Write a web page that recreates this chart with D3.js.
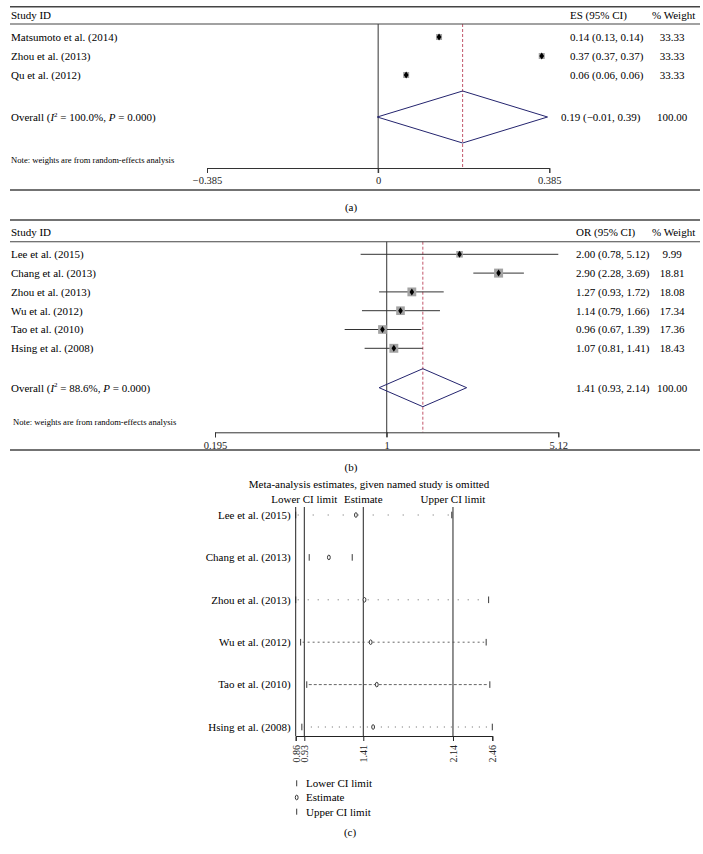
<!DOCTYPE html>
<html><head><meta charset="utf-8">
<script src="https://cdn.jsdelivr.net/npm/d3@7"></script>
<style>
body{margin:0;background:#fff;}
svg{display:block;font-family:"Liberation Serif","Times New Roman",serif;}
</style></head>
<body><svg id="c" width="703" height="854"></svg>
<script>
// ---------- Panel (a) data ----------
const studiesA = ["Matsumoto et al. (2014)", "Zhou et al. (2013)", "Qu et al. (2012)"];
const esA = [0.137, 0.368, 0.063];
const ciTextA = ["0.14 (0.13, 0.14)", "0.37 (0.37, 0.37)", "0.06 (0.06, 0.06)"];
const weightA = [33.33, 33.33, 33.33];
const overallA = [0.19, -0.002, 0.381];
const overallTextA = ["0.19 (\u22120.01, 0.39)", "100.00"];
const ticksA = [-0.385, 0, 0.385];
const tickLabelsA = ["\u22120.385", "0", "0.385"];

// ---------- Panel (b) data ----------
const studiesB = ["Lee et al. (2015)", "Chang et al. (2013)", "Zhou et al. (2013)", "Wu et al. (2012)", "Tao et al. (2010)", "Hsing et al. (2008)"];
const orB = [2.00, 2.90, 1.27, 1.14, 0.96, 1.07];
const loB = [0.78, 2.28, 0.93, 0.79, 0.67, 0.81];
const hiB = [5.12, 3.69, 1.72, 1.66, 1.39, 1.41];
const weightB = [9.99, 18.81, 18.08, 17.34, 17.36, 18.43];
const ciTextB = ["2.00 (0.78, 5.12)", "2.90 (2.28, 3.69)", "1.27 (0.93, 1.72)", "1.14 (0.79, 1.66)", "0.96 (0.67, 1.39)", "1.07 (0.81, 1.41)"];
const overallB = [1.41, 0.93, 2.14];
const overallTextB = ["1.41 (0.93, 2.14)", "100.00"];
const ticksB = [0.195, 1, 5.12];
const tickLabelsB = ["0.195", "1", "5.12"];

// ---------- Panel (c) data ----------
const studiesC = ["Lee et al. (2015)", "Chang et al. (2013)", "Zhou et al. (2013)", "Wu et al. (2012)", "Tao et al. (2010)", "Hsing et al. (2008)"];
const estC = [1.35, 1.13, 1.42, 1.47, 1.52, 1.49];
const loC = [0.86, 0.97, 0.86, 0.90, 0.95, 0.91];
const hiC = [2.13, 1.32, 2.43, 2.41, 2.44, 2.46];
const ticksC = [0.86, 0.93, 1.41, 2.14, 2.46];
const refC = [0.93, 1.41, 2.14];
const refLabelsC = ["Lower CI limit", "Estimate", "Upper CI limit"];
const legendC = ["Lower CI limit", "Estimate", "Upper CI limit"];

// dot patterns of the dotted connecting lines per row (style only)
const dotStyleC = ["1,14", "0,100", "1,9", "2,3", "3,2", "1,6"];

const svg = d3.select("#c");
const NAVY = "#24246e", RED = "#c2566a", GREY = "#a3a3a3";

function diamondPath(cx, cy, hw, hh) {
  return `M${cx - hw},${cy}L${cx},${cy - hh}L${cx + hw},${cy}L${cx},${cy + hh}Z`;
}
function hline(y, w) {
  svg.append("line").attr("x1", 10).attr("x2", 700).attr("y1", y).attr("y2", y)
    .attr("stroke", "#444").attr("stroke-width", w);
}
function overallLabel(g, x, y, i2) {
  const t = g.append("text").attr("x", x).attr("y", y).attr("dy", "0.35em").attr("font-size", 11);
  t.append("tspan").text("Overall (");
  t.append("tspan").attr("font-style", "italic").text("I");
  t.append("tspan").attr("font-size", 7).attr("dy", "-0.6em").text("2");
  t.append("tspan").attr("dy", "0.42em").text(" = " + i2 + ", ");
  t.append("tspan").attr("font-style", "italic").text("P");
  t.append("tspan").text(" = 0.000)");
}

// ================= Panel (a) =================
{
  const g = svg.append("g");
  const x = d3.scaleLinear().domain([-0.385, 0.385]).range([207, 549.3]);
  const y = d3.scaleLinear().domain([0, studiesA.length - 1]).range([37, 75]);
  const yOverall = 117, yHeader = 15.5, yTopTable = 24, yAxis = 168;
  hline(6.7, 1.6); hline(yTopTable, 1.1); hline(190, 1.6);
  g.append("text").attr("x", 11).attr("y", yHeader).attr("dy", "0.35em").attr("font-size", 11).text("Study ID");
  g.append("text").attr("x", 570).attr("y", yHeader).attr("dy", "0.35em").attr("font-size", 11).text("ES (95% CI)");
  g.append("text").attr("x", 652).attr("y", yHeader).attr("dy", "0.35em").attr("font-size", 11).text("% Weight");
  // zero line
  g.append("line").attr("x1", x(0)).attr("x2", x(0)).attr("y1", yTopTable).attr("y2", yAxis + 5).attr("stroke", "#333");
  // overall dashed
  g.append("line").attr("x1", x(overallA[0])).attr("x2", x(overallA[0])).attr("y1", yTopTable).attr("y2", yAxis)
    .attr("stroke", RED).attr("stroke-dasharray", "3,2");
  // axis
  const ax = g.append("g").attr("transform", `translate(0,${yAxis})`)
    .call(d3.axisBottom(x).tickValues(ticksA).tickSize(5).tickPadding(4).tickFormat((d, i) => tickLabelsA[i]));
  ax.select(".domain").attr("stroke", "#333");
  ax.selectAll(".tick line").attr("stroke", "#333");
  ax.selectAll("text").attr("font-family", "Liberation Serif").attr("font-size", 10.5).attr("fill", "#222");
  // studies
  studiesA.forEach((s, i) => {
    g.append("text").attr("x", 11).attr("y", y(i)).attr("dy", "0.35em").attr("font-size", 11).text(s);
    g.append("rect").attr("x", x(esA[i]) - 3).attr("y", y(i) - 3).attr("width", 6).attr("height", 6).attr("fill", GREY);
    g.append("path").attr("d", diamondPath(x(esA[i]), y(i), 2.4, 3.6)).attr("fill", "#000");
    g.append("text").attr("x", 570).attr("y", y(i)).attr("dy", "0.35em").attr("font-size", 11).text(ciTextA[i]);
    g.append("text").attr("x", 672).attr("y", y(i)).attr("dy", "0.35em").attr("font-size", 11).attr("text-anchor", "middle").text(weightA[i].toFixed(2));
  });
  g.append("path").attr("d", `M${x(overallA[1])},${yOverall}L${x(overallA[0])},${yOverall - 26}L${x(overallA[2])},${yOverall}L${x(overallA[0])},${yOverall + 26}Z`)
    .attr("fill", "none").attr("stroke", NAVY).attr("stroke-width", 1);
  overallLabel(g, 11, yOverall, "100.0%");
  g.append("text").attr("x", 561).attr("y", yOverall).attr("dy", "0.35em").attr("font-size", 11).text(overallTextA[0]);
  g.append("text").attr("x", 672).attr("y", yOverall).attr("dy", "0.35em").attr("font-size", 11).attr("text-anchor", "middle").text(overallTextA[1]);
  g.append("text").attr("x", 11).attr("y", 160).attr("dy", "0.35em").attr("font-size", 8.6).text("Note: weights are from random-effects analysis");
  g.append("text").attr("x", 351).attr("y", 207).attr("dy", "0.35em").attr("font-size", 11).attr("text-anchor", "middle").text("(a)");
}

// ================= Panel (b) =================
{
  const g = svg.append("g");
  const x = d3.scaleLog().domain([0.195, 5.12]).range([215, 558.3]);
  const y = d3.scaleLinear().domain([0, studiesB.length - 1]).range([254.3, 348.3]);
  const side = d3.scaleSqrt().domain([0, 18.81]).range([0, 9]);
  const yOverall = 387.7, yHeader = 231.7, yTopTable = 241.7, yAxis = 432.3;
  hline(220, 1.6); hline(yTopTable, 1.1); hline(450, 1.6);
  g.append("text").attr("x", 11).attr("y", yHeader).attr("dy", "0.35em").attr("font-size", 11).text("Study ID");
  g.append("text").attr("x", 576).attr("y", yHeader).attr("dy", "0.35em").attr("font-size", 11).text("OR (95% CI)");
  g.append("text").attr("x", 652).attr("y", yHeader).attr("dy", "0.35em").attr("font-size", 11).text("% Weight");
  g.append("line").attr("x1", x(1)).attr("x2", x(1)).attr("y1", yTopTable).attr("y2", yAxis + 5).attr("stroke", "#333");
  g.append("line").attr("x1", x(overallB[0])).attr("x2", x(overallB[0])).attr("y1", yTopTable).attr("y2", yAxis)
    .attr("stroke", RED).attr("stroke-dasharray", "3,2");
  const ax = g.append("g").attr("transform", `translate(0,${yAxis})`)
    .call(d3.axisBottom(x).tickValues(ticksB).tickSize(5).tickPadding(4).tickFormat((d, i) => tickLabelsB[i]));
  ax.select(".domain").attr("stroke", "#333");
  ax.selectAll(".tick line").attr("stroke", "#333");
  ax.selectAll("text").attr("font-family", "Liberation Serif").attr("font-size", 10.5).attr("fill", "#222");
  studiesB.forEach((s, i) => {
    g.append("text").attr("x", 11).attr("y", y(i)).attr("dy", "0.35em").attr("font-size", 11).text(s);
    g.append("line").attr("x1", x(loB[i])).attr("x2", x(hiB[i])).attr("y1", y(i)).attr("y2", y(i)).attr("stroke", "#333").attr("stroke-width", 1);
    const sd = side(weightB[i]);
    g.append("rect").attr("x", x(orB[i]) - sd / 2).attr("y", y(i) - sd / 2).attr("width", sd).attr("height", sd).attr("fill", GREY);
    g.append("path").attr("d", diamondPath(x(orB[i]), y(i), 2.3, 3.5)).attr("fill", "#000");
    g.append("text").attr("x", 576).attr("y", y(i)).attr("dy", "0.35em").attr("font-size", 11).text(ciTextB[i]);
    g.append("text").attr("x", 672).attr("y", y(i)).attr("dy", "0.35em").attr("font-size", 11).attr("text-anchor", "middle").text(weightB[i].toFixed(2));
  });
  g.append("path").attr("d", `M${x(overallB[1])},${yOverall}L${x(overallB[0])},${yOverall - 19}L${x(overallB[2])},${yOverall}L${x(overallB[0])},${yOverall + 19}Z`)
    .attr("fill", "none").attr("stroke", NAVY).attr("stroke-width", 1);
  overallLabel(g, 11, yOverall, "88.6%");
  g.append("text").attr("x", 576).attr("y", yOverall).attr("dy", "0.35em").attr("font-size", 11).text(overallTextB[0]);
  g.append("text").attr("x", 672).attr("y", yOverall).attr("dy", "0.35em").attr("font-size", 11).attr("text-anchor", "middle").text(overallTextB[1]);
  g.append("text").attr("x", 13).attr("y", 421.7).attr("dy", "0.35em").attr("font-size", 8.6).text("Note: weights are from random-effects analysis");
  g.append("text").attr("x", 351).attr("y", 466.7).attr("dy", "0.35em").attr("font-size", 11).attr("text-anchor", "middle").text("(b)");
}

// ================= Panel (c) =================
{
  const g = svg.append("g");
  const x = d3.scaleLinear().domain([0.86, 2.46]).range([295.7, 492.3]);
  const y = d3.scaleLinear().domain([0, studiesC.length - 1]).range([515, 727]);
  const yTop = 507, yAxis = 736;
  g.append("text").attr("x", 369).attr("y", 484).attr("dy", "0.35em").attr("font-size", 11).attr("text-anchor", "middle")
    .text("Meta-analysis estimates, given named study is omitted");
  refC.forEach((v, i) => {
    g.append("text").attr("x", x(v)).attr("y", 499).attr("dy", "0.35em").attr("font-size", 11).attr("text-anchor", "middle").text(refLabelsC[i]);
  });
  // left axis line
  g.append("line").attr("x1", x(ticksC[0])).attr("x2", x(ticksC[0])).attr("y1", yTop).attr("y2", yAxis).attr("stroke", "#222");
  refC.forEach(v => {
    g.append("line").attr("x1", x(v)).attr("x2", x(v)).attr("y1", yTop).attr("y2", yAxis).attr("stroke", "#222");
  });
  const ax = g.append("g").attr("transform", `translate(0,${yAxis})`)
    .call(d3.axisBottom(x).tickValues(ticksC).tickSize(5).tickFormat(d3.format(".2f")));
  ax.select(".domain").attr("stroke", "#222");
  ax.selectAll(".tick line").attr("stroke", "#222");
  ax.selectAll("text").attr("font-family", "Liberation Serif").attr("font-size", 10).attr("fill", "#222")
    .attr("transform", "rotate(-90)").attr("text-anchor", "end").attr("x", -9).attr("y", 0).attr("dy", "0.35em");
  studiesC.forEach((s, i) => {
    const yy = y(i);
    g.append("text").attr("x", 290.7).attr("y", yy).attr("dy", "0.35em").attr("font-size", 11).attr("text-anchor", "end").text(s);
    g.append("line").attr("x1", x(loC[i]) + 2).attr("x2", x(hiC[i]) - 2).attr("y1", yy).attr("y2", yy)
      .attr("stroke", "#555").attr("stroke-width", 0.9).attr("stroke-dasharray", dotStyleC[i]);
    [loC[i], hiC[i]].forEach(v => {
      g.append("line").attr("x1", x(v)).attr("x2", x(v)).attr("y1", yy - 3.3).attr("y2", yy + 3.3).attr("stroke", "#222").attr("stroke-width", 0.9);
    });
    g.append("ellipse").attr("cx", x(estC[i])).attr("cy", yy).attr("rx", 1.4).attr("ry", 2.3)
      .attr("fill", "#fff").attr("stroke", "#222").attr("stroke-width", 0.9);
  });
  // legend
  const ly = d3.scaleLinear().domain([0, 2]).range([783.3, 811.7]);
  legendC.forEach((t, i) => {
    const yy = ly(i);
    if (i === 1) {
      g.append("ellipse").attr("cx", 296.7).attr("cy", yy).attr("rx", 1.4).attr("ry", 2.3).attr("fill", "#fff").attr("stroke", "#222").attr("stroke-width", 0.9);
    } else {
      g.append("line").attr("x1", 296.7).attr("x2", 296.7).attr("y1", yy - 3).attr("y2", yy + 3).attr("stroke", "#222").attr("stroke-width", 0.9);
    }
    g.append("text").attr("x", 306).attr("y", yy).attr("dy", "0.35em").attr("font-size", 11).text(t);
  });
  g.append("text").attr("x", 350).attr("y", 831.7).attr("dy", "0.35em").attr("font-size", 11).attr("text-anchor", "middle").text("(c)");
}
</script></body></html>
